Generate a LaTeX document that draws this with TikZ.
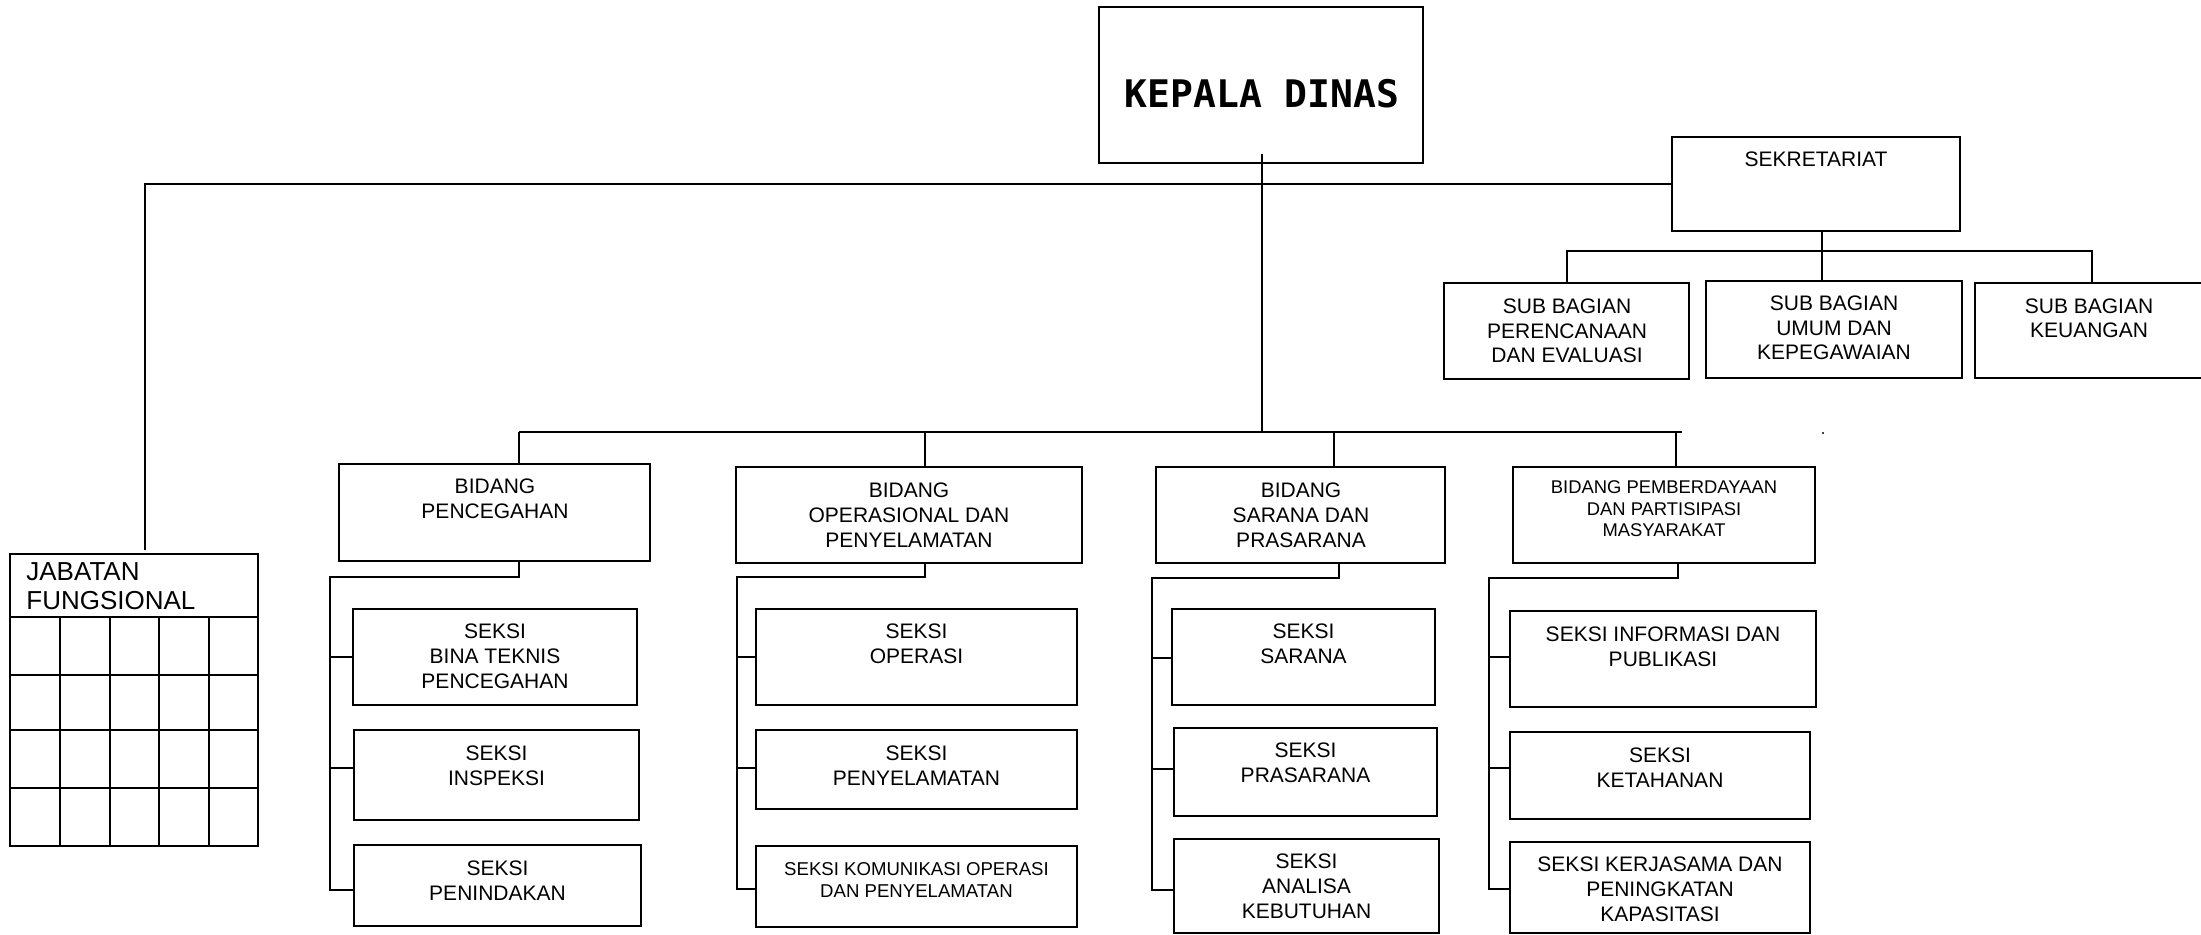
\documentclass[tikz,border=0pt]{standalone}
\usepackage{fontspec}
\setmainfont{Liberation Sans}
\newfontfamily\kdfont{DejaVu Sans Mono}
\newcommand\orgbox[5]{\node[box, anchor=north west, minimum width={(#4-#2)*0.5pt}, minimum height={(#5-#3)*0.5pt}] (#1) at (#2,#3) {};}
\tikzset{
  box/.style={draw, line width=1.1pt, inner sep=0pt, outer sep=0pt},
  txt/.style={font=\fontsize{10.5}{12.3}\selectfont, align=center, inner sep=0pt, anchor=base},
  smalltxt/.style={txt, font=\fontsize{9.2}{10.9}\selectfont},
  conn/.style={line width=0.9pt},
  thinconn/.style={line width=0.7pt},
  gridline/.style={line width=1.1pt}
}
\begin{document}
\begin{tikzpicture}[x=0.5pt,y=-0.5pt]
\useasboundingbox (0,0) rectangle (2201,935);
% boxes
\orgbox{kd}{1099}{7}{1423}{163}
\orgbox{sek}{1672}{137}{1960}{231}
\orgbox{sp}{1444}{283}{1689}{379}
\orgbox{su}{1706}{281}{1962}{378}
\orgbox{sk}{1975}{283}{2206}{378}
\orgbox{bp}{339}{464}{650}{561}
\orgbox{bo}{736}{467}{1082}{563}
\orgbox{bs}{1156}{467}{1445}{563}
\orgbox{bm}{1513}{467}{1815}{563}
\orgbox{s11}{353}{609}{637}{705}
\orgbox{s12}{354}{730}{639}{820}
\orgbox{s13}{354}{845}{641}{926}
\orgbox{s21}{756}{609}{1077}{705}
\orgbox{s22}{756}{730}{1077}{809}
\orgbox{s23}{756}{846}{1077}{927}
\orgbox{s31}{1172}{609}{1435}{705}
\orgbox{s32}{1174}{728}{1437}{816}
\orgbox{s33}{1174}{839}{1439}{933}
\orgbox{s41}{1510}{611}{1816}{707}
\orgbox{s42}{1510}{732}{1810}{819}
\orgbox{s43}{1510}{842}{1810}{933}
\orgbox{jab}{10}{554}{258}{846}
% jabatan grid
\foreach \yy in {617,675,730,788} \draw[gridline] (10,\yy) -- (258,\yy);
\foreach \xx in {60,110,159,209} \draw[gridline] (\xx,617) -- (\xx,846);
% texts (anchor=base is the baseline of the last line)
\node[txt, font=\kdfont\bfseries\fontsize{19}{22}\selectfont] (kd-t) at (1262,108) {KEPALA DINAS};
\node[txt] (sek-t) at (1816,167) {SEKRETARIAT};
\node[txt] (sp-t) at (1567,363) {SUB BAGIAN\\PERENCANAAN\\DAN EVALUASI};
\node[txt] (su-t) at (1834,360) {SUB BAGIAN\\UMUM DAN\\KEPEGAWAIAN};
\node[txt] (sk-t) at (2089,338) {SUB BAGIAN\\KEUANGAN};
\node[txt, font=\fontsize{13}{14.5}\selectfont, align=left, anchor=base west] (jab-t) at (26,609) {JABATAN\\FUNGSIONAL};
\node[txt] (bp-t) at (495,518) {BIDANG\\PENCEGAHAN};
\node[txt] (bo-t) at (909,547) {BIDANG\\OPERASIONAL DAN\\PENYELAMATAN};
\node[txt] (bs-t) at (1301,547) {BIDANG\\SARANA DAN\\PRASARANA};
\node[smalltxt] (bm-t) at (1664,537) {BIDANG PEMBERDAYAAN\\DAN PARTISIPASI\\MASYARAKAT};
\node[txt] (s11-t) at (495,688) {SEKSI\\BINA TEKNIS\\PENCEGAHAN};
\node[txt] (s12-t) at (496.5,785) {SEKSI\\INSPEKSI};
\node[txt] (s13-t) at (497.5,900) {SEKSI\\PENINDAKAN};
\node[txt] (s21-t) at (916.5,663) {SEKSI\\OPERASI};
\node[txt] (s22-t) at (916.5,785) {SEKSI\\PENYELAMATAN};
\node[smalltxt, font=\fontsize{9.3}{11}\selectfont] (s23-t) at (916.5,897) {SEKSI KOMUNIKASI OPERASI\\DAN PENYELAMATAN};
\node[txt] (s31-t) at (1303.5,663) {SEKSI\\SARANA};
\node[txt] (s32-t) at (1305.5,782) {SEKSI\\PRASARANA};
\node[txt] (s33-t) at (1306.5,918) {SEKSI\\ANALISA\\KEBUTUHAN};
\node[txt] (s41-t) at (1663,666) {SEKSI INFORMASI DAN\\PUBLIKASI};
\node[txt] (s42-t) at (1660,787) {SEKSI\\KETAHANAN};
\node[txt] (s43-t) at (1660,921) {SEKSI KERJASAMA DAN\\PENINGKATAN\\KAPASITASI};
% top connectors
\coordinate (jabin) at (145,550);
\draw[thinconn] (sek.west) -| (jabin);
\coordinate (kdin) at (1262,154);
\coordinate (kdb) at (1262,432);
\draw[conn] (kdin) -- (kdb);
\coordinate (b2L) at (519,432);
\coordinate (b2R) at (1682,432);
\draw[conn] (b2L) -- (b2R);
\coordinate (t2) at (925,432);
\coordinate (t3) at (1334,432);
\coordinate (t4) at (1676,432);
\draw[conn] (b2L) -- (b2L |- bp.north);
\draw[conn] (t2) -- (t2 |- bo.north);
\draw[conn] (t3) -- (t3 |- bs.north);
\draw[conn] (t4) -- (t4 |- bm.north);
\coordinate (dot) at (1823,433);
\fill (dot) circle (0.6pt);
% sekretariat connectors
\coordinate (sv) at (1822,251);
\coordinate (sL) at (1567,251);
\coordinate (sR) at (2092,251);
\draw[conn] (sv |- sek.south) -- (sv |- su.north);
\draw[conn] (sL |- sp.north) -- (sL) -- (sR) -- (sR |- sk.north);
% bidang 1
\coordinate (v1) at (519,577); \coordinate (L1) at (330,577);
\coordinate (b11) at (330,657); \coordinate (b12) at (330,768); \coordinate (b13) at (330,890);
\draw[conn] (v1 |- bp.south) -- (v1) -- (L1) -- (b13) -- (b13 -| s13.west);
\draw[conn] (b11) -- (b11 -| s11.west);
\draw[conn] (b12) -- (b12 -| s12.west);
% bidang 2
\coordinate (v2) at (925,577); \coordinate (L2) at (737,577);
\coordinate (b21) at (737,657); \coordinate (b22) at (737,768); \coordinate (b23) at (737,889);
\draw[conn] (v2 |- bo.south) -- (v2) -- (L2) -- (b23) -- (b23 -| s23.west);
\draw[conn] (b21) -- (b21 -| s21.west);
\draw[conn] (b22) -- (b22 -| s22.west);
% bidang 3
\coordinate (v3) at (1339,578); \coordinate (L3) at (1152,578);
\coordinate (b31) at (1152,658); \coordinate (b32) at (1152,769); \coordinate (b33) at (1152,890);
\draw[conn] (v3 |- bs.south) -- (v3) -- (L3) -- (b33) -- (b33 -| s33.west);
\draw[conn] (b31) -- (b31 -| s31.west);
\draw[conn] (b32) -- (b32 -| s32.west);
% bidang 4
\coordinate (v4) at (1678,578); \coordinate (L4) at (1489,578);
\coordinate (b41) at (1489,657); \coordinate (b42) at (1489,768); \coordinate (b43) at (1489,889);
\draw[conn] (v4 |- bm.south) -- (v4) -- (L4) -- (b43) -- (b43 -| s43.west);
\draw[conn] (b41) -- (b41 -| s41.west);
\draw[conn] (b42) -- (b42 -| s42.west);
\end{tikzpicture}
\end{document}
